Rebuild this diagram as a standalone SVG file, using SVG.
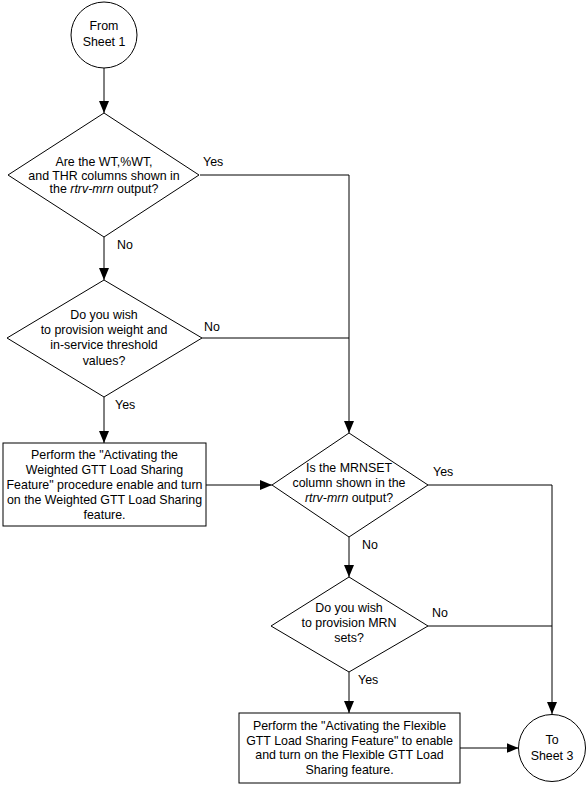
<svg xmlns="http://www.w3.org/2000/svg" width="587" height="785" viewBox="0 0 587 785">
<defs>
<marker id="arr" markerUnits="userSpaceOnUse" markerWidth="12" markerHeight="10" refX="12" refY="5" orient="auto">
<path d="M0,0 L12,5 L0,10 z" fill="#000"/>
</marker>
<style>
.s{fill:#fff;stroke:#000;stroke-width:1}
.c{fill:none;stroke:#000;stroke-width:1}
text{font-family:"Liberation Sans",Arial,sans-serif;font-size:12.4px;fill:#000}
.m{text-anchor:middle}
.i{font-style:italic}
</style>
</defs>
<rect width="587" height="785" fill="#fff"/>
<g id="connectors">
<line class="c" x1="104" y1="68" x2="104" y2="113" marker-end="url(#arr)"/>
<line class="c" x1="104" y1="237" x2="104" y2="280" marker-end="url(#arr)"/>
<line class="c" x1="104" y1="397" x2="104" y2="443" marker-end="url(#arr)"/>
<line class="c" x1="206" y1="485" x2="272" y2="485" marker-end="url(#arr)"/>
<polyline class="c" points="200,175 349,175 349,433" marker-end="url(#arr)"/>
<line class="c" x1="202" y1="338" x2="349" y2="338"/>
<line class="c" x1="349" y1="537" x2="349" y2="577" marker-end="url(#arr)"/>
<polyline class="c" points="428,485 552,485 552,714" marker-end="url(#arr)"/>
<line class="c" x1="428" y1="626" x2="552" y2="626"/>
<line class="c" x1="349" y1="672" x2="349" y2="713" marker-end="url(#arr)"/>
<line class="c" x1="460" y1="748" x2="518.5" y2="748" marker-end="url(#arr)"/>
<text x="203" y="166">Yes</text>
<text x="117" y="249">No</text>
<text x="204" y="331">No</text>
<text x="115" y="409">Yes</text>
<text x="433" y="476">Yes</text>
<text x="362" y="549">No</text>
<text x="432" y="617">No</text>
<text x="358" y="684">Yes</text>
</g>
<g id="start">
<circle class="s" cx="104" cy="35" r="33"/>
<text class="m" x="104" y="30">From</text>
<text class="m" x="104" y="46">Sheet 1</text>
</g>
<g id="q1">
<polygon class="s" points="104,113 199,175 104,237 8,175"/>
<text class="m" x="104" y="166">Are the WT,%WT,</text>
<text class="m" x="104" y="179.5">and THR columns shown in</text>
<text class="m" x="104" y="193">the <tspan class="i">rtrv-mrn</tspan> output?</text>
</g>
<g id="q2">
<polygon class="s" points="104,280 202,338 104,397 7,338"/>
<text class="m" x="104" y="318.5">Do you wish</text>
<text class="m" x="104" y="334">to provision weight and</text>
<text class="m" x="104" y="349">in-service threshold</text>
<text class="m" x="104" y="364.5">values?</text>
</g>
<g id="box1">
<rect class="s" x="3" y="443" width="203" height="83"/>
<text class="m" x="104.5" y="458.5">Perform the "Activating the</text>
<text class="m" x="104.5" y="473.5">Weighted GTT Load Sharing</text>
<text class="m" x="104.5" y="488.5">Feature" procedure enable and turn</text>
<text class="m" x="104.5" y="503.5">on the Weighted GTT Load Sharing</text>
<text class="m" x="104.5" y="518.5">feature.</text>
</g>
<g id="q3">
<polygon class="s" points="349,433 428,485 349,537 272,485"/>
<text class="m" x="349" y="472">Is the MRNSET</text>
<text class="m" x="349" y="487">column shown in the</text>
<text class="m" x="349" y="502"><tspan class="i">rtrv-mrn</tspan> output?</text>
</g>
<g id="q4">
<polygon class="s" points="349,577 428,626 349,672 271,626"/>
<text class="m" x="349" y="612">Do you wish</text>
<text class="m" x="349" y="627">to provision MRN</text>
<text class="m" x="349" y="642">sets?</text>
</g>
<g id="box2">
<rect class="s" x="239" y="713" width="221" height="70"/>
<text class="m" x="349.5" y="730">Perform the "Activating the Flexible</text>
<text class="m" x="349.5" y="744.5">GTT Load Sharing Feature" to enable</text>
<text class="m" x="349.5" y="759">and turn on the Flexible GTT Load</text>
<text class="m" x="349.5" y="773.5">Sharing feature.</text>
</g>
<g id="end">
<circle class="s" cx="552" cy="748" r="33.5"/>
<text class="m" x="552" y="744">To</text>
<text class="m" x="552" y="760">Sheet 3</text>
</g>
</svg>
